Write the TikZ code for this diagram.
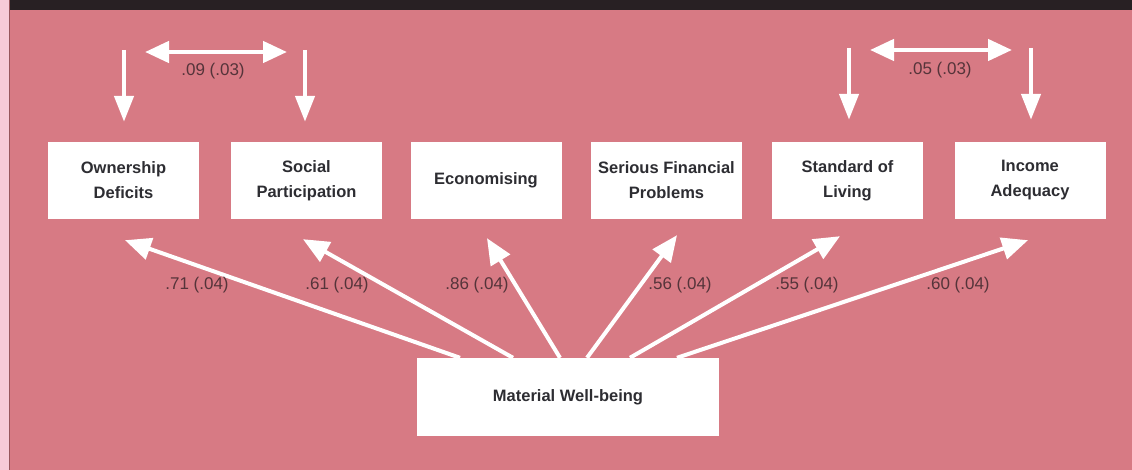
\documentclass[tikz,border=0pt]{standalone}
\usepackage{fontspec}
\setmainfont{Liberation Sans}
\usetikzlibrary{arrows.meta,positioning}
\definecolor{bgpink}{RGB}{215,122,132}
\definecolor{stripe}{RGB}{246,202,216}
\definecolor{band}{RGB}{40,32,35}
\definecolor{boxtext}{RGB}{45,45,50}
\definecolor{labtext}{RGB}{85,52,58}
\tikzset{
  varbox/.style={fill=white, draw=none, minimum width=151pt, minimum height=77pt,
    inner sep=0pt, align=center, text=boxtext,
    font=\fontsize{16.5}{25}\selectfont\bfseries},
  loadarrow/.style={draw=white, line width=4pt, -{Triangle[length=26pt,width=22pt]}},
  downarrow/.style={draw=white, line width=4.5pt, -{Triangle[length=26pt,width=19pt]}},
  corrarrow/.style={draw=white, line width=4.5pt, {Triangle[length=24pt,width=21pt]}-{Triangle[length=24pt,width=21pt]}},
  coef/.style={text=labtext, inner sep=0pt, font=\fontsize{17}{20}\selectfont}
}
\begin{document}
\begin{tikzpicture}[x=1pt,y=-1pt]
\useasboundingbox (0,0) rectangle (1132,470);
\fill[bgpink] (0,0) rectangle (1132,470);
\fill[band] (9,0) rectangle (1132,10);
\fill[stripe] (0,0) rectangle (9,470);
\fill[bgpink!70!black] (9,0) rectangle (10,470);

% indicator boxes
\node[varbox] (own) at (123.5,180.5) {Ownership\\Deficits};
\node[varbox] (soc) at (306.5,180.5) {Social\\Participation};
\node[varbox] (eco) at (486,180.5) {Economising};
\node[varbox] (sfp) at (666.5,180.5) {Serious Financial\\Problems};
\node[varbox] (sol) at (847.5,180.5) {Standard of\\Living};
\node[varbox] (inc) at (1030,180.5) {Income\\Adequacy};

% latent box
\node[varbox, minimum width=302pt, minimum height=78pt] (mat) at (568,397) {Material Well-being};

% loadings
\draw[loadarrow] ([xshift=-108pt]mat.north) -- ([xshift=1.5pt,yshift=-21pt]own.south);
\draw[loadarrow] ([xshift=-55pt]mat.north) -- ([xshift=-3.5pt,yshift=-20pt]soc.south);
\draw[loadarrow] ([xshift=-8pt]mat.north) -- ([xshift=1pt,yshift=-19pt]eco.south);
\draw[loadarrow] ([xshift=19pt]mat.north) -- ([xshift=10.5pt,yshift=-16pt]sfp.south);
\draw[loadarrow] ([xshift=62pt]mat.north) -- ([xshift=-7.5pt,yshift=-17pt]sol.south);
\draw[loadarrow] ([xshift=109pt]mat.north) -- ([xshift=-2pt,yshift=-21pt]inc.south);

\node[coef] (l1) at (197,285) {.71 (.04)};
\node[coef] (l2) at (337,285) {.61 (.04)};
\node[coef] (l3) at (477,285) {.86 (.04)};
\node[coef] (l4) at (680,285) {.56 (.04)};
\node[coef] (l5) at (807,285) {.55 (.04)};
\node[coef] (l6) at (958,285) {.60 (.04)};

% error terms / correlated errors, left pair
\coordinate (e1) at (124,50);
\coordinate (e2) at (305,50);
\draw[downarrow] (e1) -- ([xshift=0.5pt,yshift=20pt]own.north);
\draw[downarrow] (e2) -- ([xshift=-1.5pt,yshift=20pt]soc.north);
\coordinate (c1) at (145,52);
\coordinate (c2) at (287,52);
\draw[corrarrow] (c1) -- (c2);
\node[coef] (r1) at (213,71) {.09 (.03)};

% right pair
\coordinate (e5) at (849,48);
\coordinate (e6) at (1031,48);
\draw[downarrow] (e5) -- ([xshift=1.5pt,yshift=22pt]sol.north);
\draw[downarrow] (e6) -- ([xshift=1pt,yshift=22pt]inc.north);
\coordinate (c5) at (870,50);
\coordinate (c6) at (1012,50);
\draw[corrarrow] (c5) -- (c6);
\node[coef] (r2) at (940,70) {.05 (.03)};
\end{tikzpicture}
\end{document}
